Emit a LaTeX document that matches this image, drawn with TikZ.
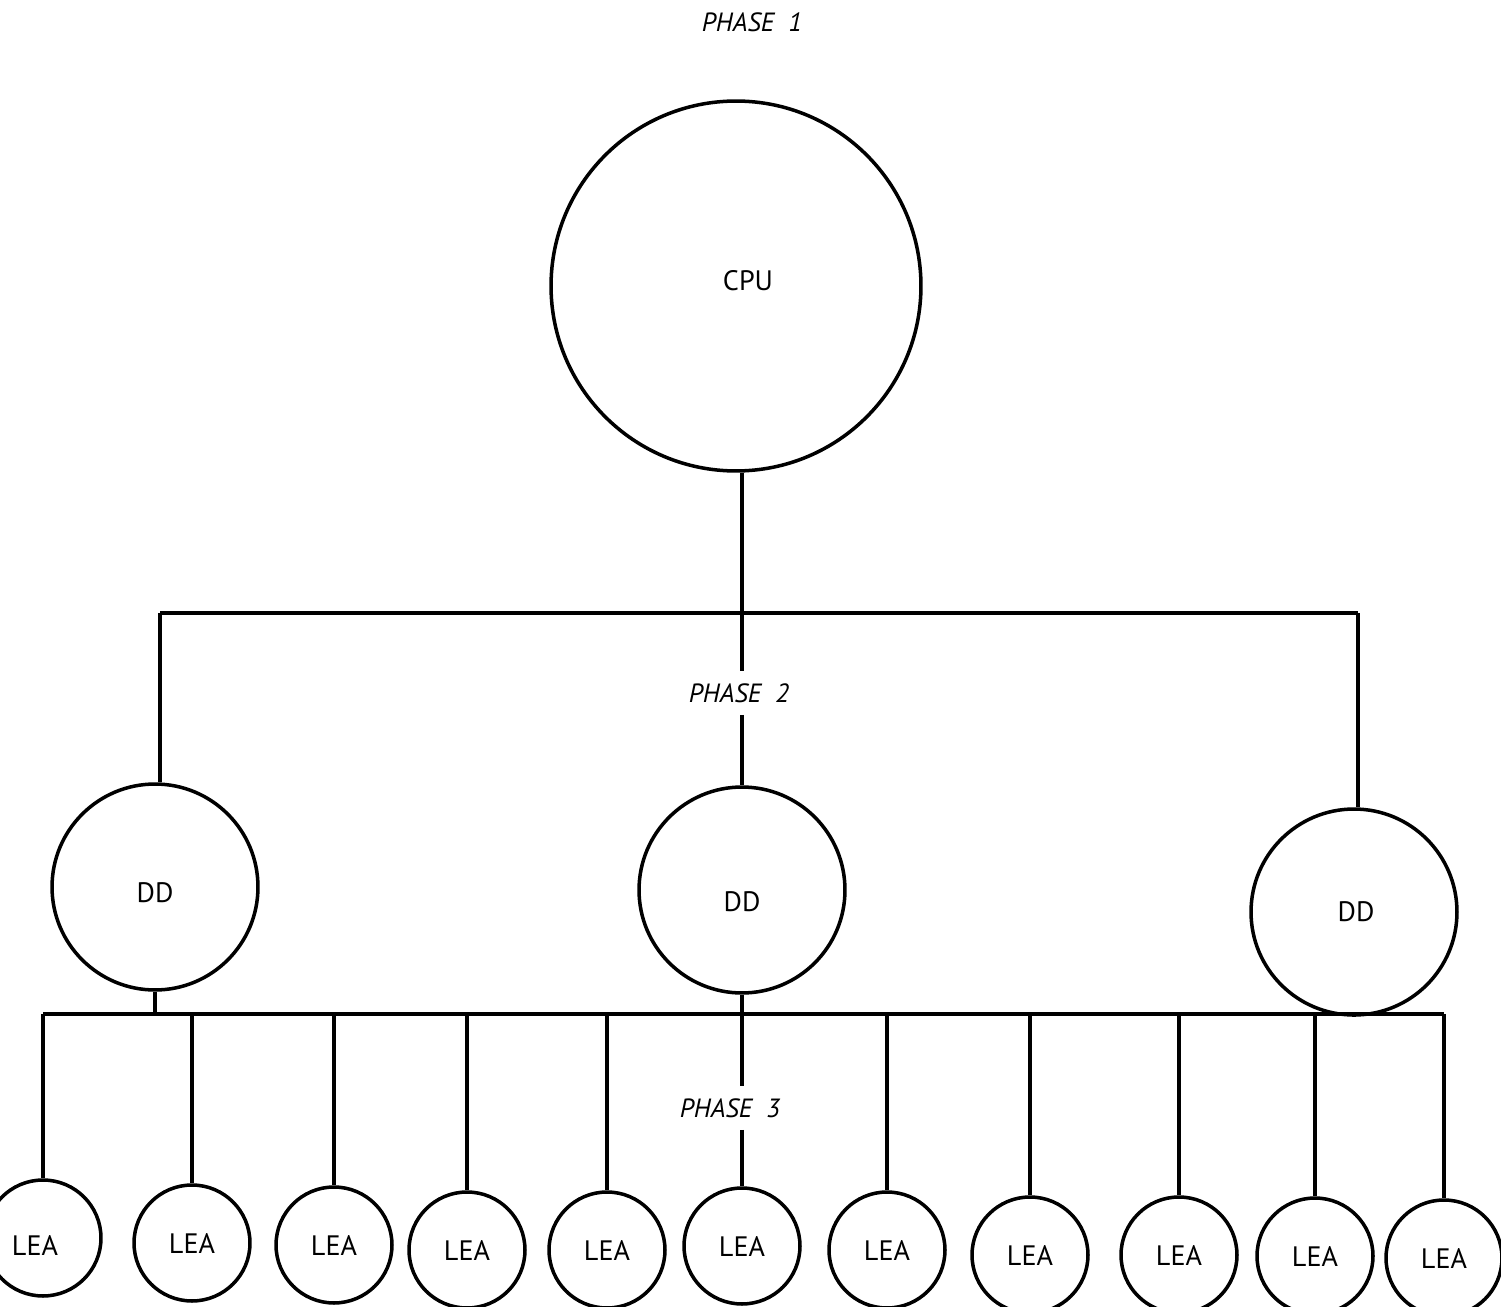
\documentclass[tikz,border=0pt]{standalone}
\usepackage{fontspec}
\setmainfont{PT Sans}
\begin{document}
\begin{tikzpicture}[x=0.02cm,y=-0.02cm,line width=2pt,
  unit/.style={circle,draw,inner sep=0pt,font=\fontsize{16}{18}\selectfont},
  cpu/.style={unit,minimum size=7.4cm},
  dd/.style={unit,minimum size=4.12cm},
  lea/.style={unit,minimum size=2.32cm},
  tag/.style={inner sep=0pt,font=\fontsize{16}{18}\selectfont},
  phase/.style={font=\itshape\fontsize{15}{18}\selectfont,inner xsep=2pt,inner ysep=6pt}]
\useasboundingbox (0,0) rectangle (1501,1307);
% labels
\node[phase] (p1) at (752,22) {PHASE~~1};
\node[phase] (p2) at (739,693) {PHASE~~2};
\node[phase] (p3) at (730,1108) {PHASE~~3};
% units
\node[cpu] (cpu) at (736,286) {};
\node[tag] (cput) at (748,281) {CPU};
\node[dd] (dd1) at (155,887) {};
\node[tag] (dd1t) at (155,893) {DD};
\node[dd] (dd2) at (742,890) {};
\node[tag] (dd2t) at (742,902) {DD};
\node[dd] (dd3) at (1354,912) {};
\node[tag] (dd3t) at (1356,912) {DD};
\node[lea] (lea1) at (43,1238) {};
\node[tag] (lea1t) at (35,1245) {LEA};
\node[lea] (lea2) at (192,1243) {LEA};
\node[lea] (lea3) at (334,1245) {LEA};
\node[lea] (lea4) at (467,1250) {LEA};
\node[lea] (lea5) at (607,1250) {LEA};
\node[lea] (lea6) at (742,1246) {LEA};
\node[lea] (lea7) at (887,1250) {LEA};
\node[lea] (lea8) at (1030,1255) {LEA};
\node[lea] (lea9) at (1179,1255) {LEA};
\node[lea] (lea10) at (1315,1256) {LEA};
\node[lea] (lea11) at (1444,1258) {LEA};
% top bus
\coordinate (tl) at (160,613);
\coordinate (tr) at (1358,613);
\coordinate (tm) at (742,613);
\draw (tl) -- (tr);
\draw (cpu.south -| tm) -- (tm);
\draw (tm) -- (p2.north -| tm);
\draw (p2.south -| tm) -- (dd2.north);
\draw (tl) -- (tl |- dd1.north);
\draw (tr) -- (tr |- dd3.north);
% bottom bus
\coordinate (bl) at (43,1014);
\draw (lea1.north |- bl) -- (lea11.north |- bl);
\draw (dd1.south) -- (dd1.south |- bl);
\draw (dd3.south) -- (dd3.south |- bl);
\draw (dd2.south) -- (p3.north -| dd2.south);
\draw (p3.south -| dd2.south) -- (lea6.north);
\foreach \i in {1,2,3,4,5,7,8,9,10,11}
  \draw (lea\i.north |- bl) -- (lea\i.north);
\end{tikzpicture}
\end{document}
